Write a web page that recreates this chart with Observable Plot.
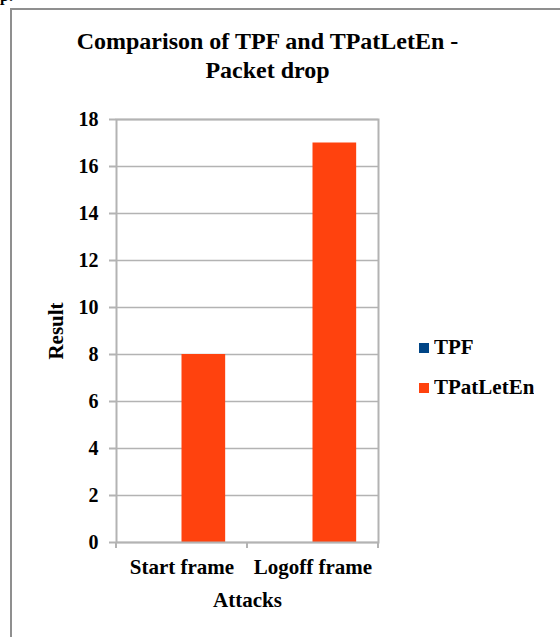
<!DOCTYPE html>
<html>
<head>
<meta charset="utf-8">
<script src="https://cdn.jsdelivr.net/npm/d3@7"></script>
<script src="https://cdn.jsdelivr.net/npm/@observablehq/plot@0.6"></script>
<style>
  body { margin: 0; background: #fff; }
  #chart { position: relative; width: 560px; height: 637px; overflow: hidden;
    font-family: "Liberation Serif", "Times New Roman", serif; font-weight: bold; color: #000; }
  #frag { position: absolute; left: 0; top: -12.4px; font-size: 16px; line-height: 16px; }
  #border { position: absolute; left: 10px; top: 8px; width: 600px; height: 700px;
    border-left: 2px solid #8f8f8f; border-top: 2px solid #8f8f8f; }
  #plot { position: absolute; left: 0; top: 0; }
  #plot svg text { font-family: "Liberation Serif", "Times New Roman", serif !important; font-weight: bold; }
  #title { position: absolute; left: 0; top: 27.4px; width: 535px; text-align: center;
    font-size: 24px; line-height: 29px; }
  #legend { position: absolute; left: 419px; top: 327.5px; }
  #legend, #legend * { font-family: "Liberation Serif", "Times New Roman", serif !important;
    font-size: 21px !important; font-weight: bold !important; color: #000 !important; }
  #legend > div { margin: 0 !important; }
  #legend > div > div { height: 40px !important; padding: 0 !important; display: flex !important;
    align-items: center !important; }
  #legend svg { margin-right: 5px !important; }
</style>
</head>
<body>
<div id="chart">
  <div id="frag">p.</div>
  <div id="border"></div>
  <div id="plot"></div>
  <div id="title">Comparison of TPF and TPatLetEn -<br>Packet drop</div>
  <div id="legend"></div>
</div>
<script>
// Packet drop per attack type
const attacks = ["Start frame", "Logoff frame"];
const series = ["TPF", "TPatLetEn"];
const tpf = [0, 0];
const tpatleten = [8, 17];
const seriesColors = ["#004586", "#ff420e"];
const yTicks = [0, 2, 4, 6, 8, 10, 12, 14, 16, 18];

const rows = attacks.flatMap((attack, i) => [
  {attack, series: series[0], value: tpf[i]},
  {attack, series: series[1], value: tpatleten[i]}
]);

const width = 560, height = 637;
const marginLeft = 116, marginRight = 182, marginTop = 119, marginBottom = 95;
const band = (width - marginLeft - marginRight) / attacks.length;
const slot = band / 3; // two bars plus one bar-width of gap per category
const gridColor = "#b3b3b3";

// short tick marks at the category boundaries below the x axis
function categoryBoundaries(index, scales, values, dims) {
  const x = scales.x;
  const bw = typeof x.bandwidth === "function" ? x.bandwidth() : x.bandwidth;
  const y0 = dims.height - dims.marginBottom;
  const edges = attacks.map((a) => x(a)).concat([x(attacks[attacks.length - 1]) + bw]);
  const g = d3.create("svg:g").attr("stroke", gridColor).attr("stroke-width", 2);
  g.selectAll("line").data(edges).join("line")
    .attr("x1", (d) => d).attr("x2", (d) => d)
    .attr("y1", y0).attr("y2", y0 + 6);
  return g.node();
}

const chart = Plot.plot({
  width, height, marginLeft, marginRight, marginTop, marginBottom,
  style: {fontFamily: "'Liberation Serif', 'Times New Roman', serif", fontSize: "21px",
          fontWeight: "bold", color: "#000", background: "transparent", overflow: "visible"},
  x: {domain: attacks, padding: 0, round: false},
  y: {domain: [0, 18]},
  color: {domain: series, range: seriesColors},
  marks: [
    Plot.gridY(yTicks, {stroke: gridColor, strokeOpacity: 1, strokeWidth: 1.5}),
    Plot.barY(rows.filter((d) => d.series === series[0]), {
      x: "attack", y: "value", fill: "series",
      insetLeft: slot / 2, insetRight: band - slot * 1.5
    }),
    Plot.barY(rows.filter((d) => d.series === series[1]), {
      x: "attack", y: "value", fill: "series",
      insetLeft: slot * 1.5, insetRight: slot / 2
    }),
    Plot.frame({stroke: gridColor, strokeWidth: 2}),
    Plot.axisY({ticks: yTicks, tickSize: 7, tickPadding: 11, stroke: gridColor, strokeWidth: 2,
                fill: "#000", fontSize: 20, label: null}),
    Plot.axisX({tickSize: 0, tickPadding: 17, fill: "#000", fontSize: 21, label: null}),
    categoryBoundaries,
    Plot.text(["Result"], {frameAnchor: "left", dx: -60, rotate: -90, textAnchor: "middle",
                           lineAnchor: "middle", fontSize: 21, fontWeight: "bold", fill: "#000"}),
    Plot.text(["Attacks"], {frameAnchor: "bottom", dy: 58, textAnchor: "middle",
                            lineAnchor: "middle", fontSize: 21, fontWeight: "bold", fill: "#000"})
  ]
});
document.getElementById("plot").appendChild(chart);

const legend = chart.legend("color", {legend: "swatches", columns: 1, swatchSize: 10});
document.getElementById("legend").appendChild(legend);
</script>
</body>
</html>
